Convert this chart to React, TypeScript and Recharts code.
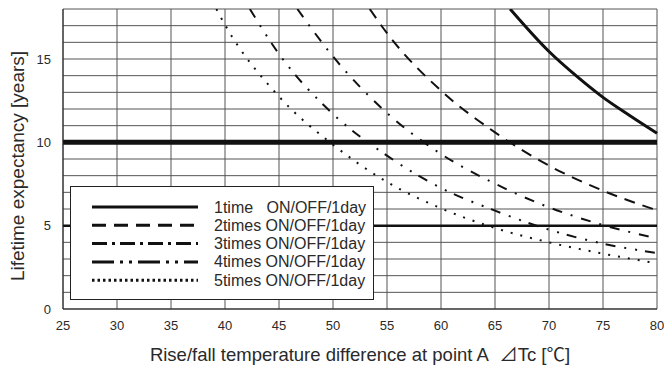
import {
  CartesianGrid,
  Line,
  LineChart,
  ReferenceLine,
  XAxis,
  YAxis,
} from "recharts";

const FONT = '"Liberation Sans", Arial, "Noto Sans CJK JP", sans-serif';

// temperature difference [°C] / lifetime [years]
const TEMP_1 = [66.4, 70, 72.5, 75, 77.5, 80];
const LIFE_1 = [18, 15.45, 14.0, 12.7, 11.6, 10.55];

const TEMP_2 = [53.4, 55, 60, 65, 70, 75, 80];
const LIFE_2 = [18, 16.55, 13.1, 10.6, 8.6, 7.1, 5.92];

const TEMP_3 = [46.7, 50, 55, 60, 65, 70, 75, 80];
const LIFE_3 = [18, 15.15, 11.76, 9.3, 7.52, 6.1, 5.04, 4.24];

const TEMP_4 = [42.3, 45, 50, 55, 60, 65, 70, 75, 80];
const LIFE_4 = [18, 15.3, 11.7, 9.2, 7.26, 5.9, 4.76, 3.92, 3.36];

const TEMP_5 = [39.2, 40, 45, 50, 55, 60, 65, 70, 75, 80];
const LIFE_5 = [18, 17.05, 12.75, 9.86, 7.62, 6.04, 4.86, 4.0, 3.32, 2.74];

const SERIES_NAMES = ["1time", "2times", "3times", "4times", "5times"];
const SUFFIX = "ON/OFF/1day";

const X_TICKS = [25, 30, 35, 40, 45, 50, 55, 60, 65, 70, 75, 80];
const Y_TICKS = [0, 1, 2, 3, 4, 5, 6, 7, 8, 9, 10, 11, 12, 13, 14, 15, 16, 17, 18];

const REF_THICK = 10;
const REF_THIN = 5;

const toRows = (temps: number[], lives: number[]) =>
  temps.map((t, i) => ({ t, life: lives[i] }));

const SERIES = [
  { name: SERIES_NAMES[0], data: toRows(TEMP_1, LIFE_1), dash: undefined, width: 3, legendDash: undefined },
  { name: SERIES_NAMES[1], data: toRows(TEMP_2, LIFE_2), dash: "11 8", width: 2, legendDash: "14 8" },
  { name: SERIES_NAMES[2], data: toRows(TEMP_3, LIFE_3), dash: "10 9 2 9", width: 2, legendDash: "15 5 3 5" },
  { name: SERIES_NAMES[3], data: toRows(TEMP_4, LIFE_4), dash: "10 9 2 9 2 8", width: 2, legendDash: "22 6 3 6 3 6" },
  { name: SERIES_NAMES[4], data: toRows(TEMP_5, LIFE_5), dash: "2 8", width: 2, legendDash: "2.5 3" },
];

function YTitle() {
  return (
    <text
      x={17}
      y={166}
      transform="rotate(-90 17 166)"
      textAnchor="middle"
      dominantBaseline="central"
      fontSize={19}
      fill="#2a2a2a"
      fontFamily={FONT}
    >
      Lifetime expectancy [years]
    </text>
  );
}

function XTitle() {
  return (
    <text x={360} y={361} textAnchor="middle" fontSize={18.5} fill="#2a2a2a" fontFamily={FONT}>
      {"Rise/fall temperature difference at point A\u00a0\u00a0\u22BFTc [\u2103]"}
    </text>
  );
}

function LegendBox() {
  return (
    <div
      style={{
        position: "absolute",
        left: 70,
        top: 186,
        width: 302,
        height: 112,
        border: "1px solid #222",
        background: "#fff",
      }}
    >
      <svg width={302} height={112}>
        {SERIES.map((s, i) => {
          const cy = 20 + i * 18.3;
          const label = i === 0 ? `${s.name}\u00a0\u00a0\u00a0${SUFFIX}` : `${s.name} ${SUFFIX}`;
          return (
            <g key={s.name}>
              <line
                x1={21}
                x2={127}
                y1={cy}
                y2={cy}
                stroke="#111"
                strokeWidth={3}
                strokeDasharray={s.legendDash}
              />
              <text x={143} y={cy} dominantBaseline="central" fontSize={16} fill="#2a2a2a" fontFamily={FONT}>
                {label}
              </text>
            </g>
          );
        })}
      </svg>
    </div>
  );
}

export default function App() {
  return (
    <div style={{ position: "absolute", left: 0, top: 0, width: 664, height: 373, background: "#fff" }}>
      <LineChart width={664} height={373} margin={{ top: 9, right: 7, bottom: 0, left: 0 }}>
        <CartesianGrid stroke="#555" strokeWidth={1} />
        <XAxis
          type="number"
          dataKey="t"
          domain={[25, 80]}
          ticks={X_TICKS}
          height={64}
          tickLine={false}
          tickSize={6}
          tickMargin={6}
          axisLine={{ stroke: "#222" }}
          tick={{ fill: "#2a2a2a", fontSize: 13, fontFamily: FONT }}
          label={<XTitle />}
        />
        <YAxis
          type="number"
          domain={[0, 18]}
          ticks={Y_TICKS}
          allowDataOverflow
          width={63}
          tickLine={false}
          tickSize={6}
          tickMargin={6}
          axisLine={{ stroke: "#222" }}
          tick={{ fill: "#2a2a2a", fontSize: 13, fontFamily: FONT }}
          tickFormatter={(v: number) => (v % 5 === 0 ? String(v) : "")}
          label={<YTitle />}
        />
        <ReferenceLine y={REF_THICK} stroke="#111" strokeWidth={5} />
        <ReferenceLine y={REF_THIN} stroke="#111" strokeWidth={2.5} />
        {SERIES.map((s) => (
          <Line
            key={s.name}
            data={s.data}
            dataKey="life"
            name={s.name}
            type="monotone"
            stroke="#111"
            strokeWidth={s.width}
            strokeDasharray={s.dash}
            dot={false}
            activeDot={false}
            isAnimationActive={false}
          />
        ))}
      </LineChart>
      <LegendBox />
    </div>
  );
}
